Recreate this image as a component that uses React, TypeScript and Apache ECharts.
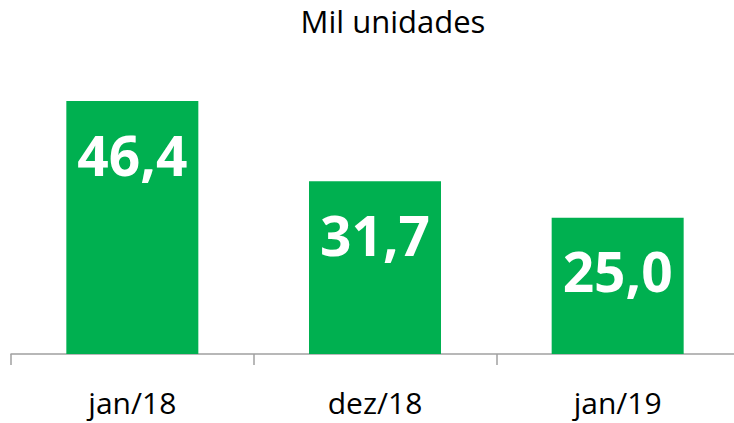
import React, { useEffect, useRef } from "react";
import * as echarts from "echarts";

const categories = ["jan/18", "dez/18", "jan/19"];
const values = [46.4, 31.7, 25.0];
const titleText = "Mil unidades";

export default function App() {
  const ref = useRef<HTMLDivElement>(null);
  useEffect(() => {
    if (!ref.current) return;
    const chart = echarts.init(ref.current, undefined, { renderer: "svg" });
    chart.setOption({
      animation: false,
      backgroundColor: "#ffffff",
      title: {
        text: titleText,
        left: 388,
        top: 0,
        textAlign: "center",
        textStyle: {
          fontFamily: "Open Sans",
          fontSize: 31,
          fontWeight: "normal",
          color: "#000000",
        },
      },
      grid: {
        left: 11,
        width: 728,
        top: 27,
        height: 327,
        containLabel: false,
        outerBoundsMode: "none",
      },
      xAxis: {
        type: "category",
        data: categories,
        axisLine: { show: true, lineStyle: { color: "#a0a0a0", width: 1.5 } },
        axisTick: { show: true, length: 11, lineStyle: { color: "#a0a0a0", width: 1.5 } },
        axisLabel: {
          fontFamily: "Open Sans",
          fontSize: 30,
          color: "#000000",
          margin: 33,
        },
      },
      yAxis: {
        type: "value",
        min: 0,
        max: 60,
        show: false,
        splitLine: { show: false },
      },
      series: [
        {
          type: "bar",
          data: values,
          barWidth: 132,
          itemStyle: { color: "#00b050" },
          label: {
            show: true,
            position: ["50%", 53],
            align: "center",
            verticalAlign: "middle",
            fontFamily: "Open Sans",
            fontWeight: "bold",
            fontSize: 55,
            color: "#ffffff",
            formatter: (p: any) => Number(p.value).toFixed(1).replace(".", ","),
          },
        },
      ],
    });
    return () => chart.dispose();
  }, []);
  return (
    <div
      ref={ref}
      style={{ position: "fixed", left: 0, top: 0, width: 734, height: 423 }}
    />
  );
}
